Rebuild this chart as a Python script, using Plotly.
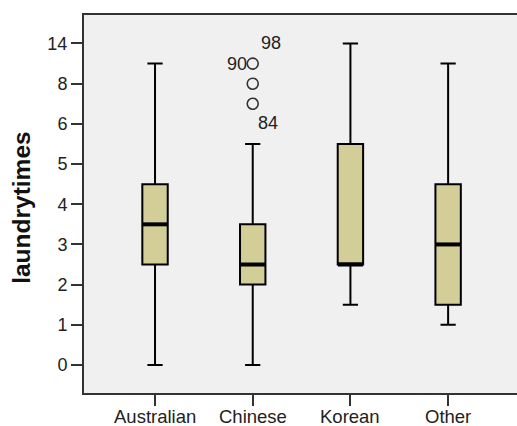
import plotly.graph_objects as go

# Ordinal y scale: tick labels placed at equally spaced positions 0..8
y_tick_labels = ["0", "1", "2", "3", "4", "5", "6", "8", "14"]
y_tick_pos = list(range(len(y_tick_labels)))

categories = ["Australian", "Chinese", "Korean", "Other"]
# box statistics expressed in ordinal-scale positions
lower_fence = [0.0, 0.0, 1.5, 1.0]
q1 = [2.5, 2.0, 2.5, 1.5]
median = [3.5, 2.5, 2.5, 3.0]
q3 = [4.5, 3.5, 5.5, 4.5]
upper_fence = [7.5, 5.5, 8.0, 7.5]

# outliers (Chinese group)
outlier_cat = [1, 1, 1]
outlier_pos = [7.5, 7.0, 6.5]
outlier_labels = ["98", "90", "84"]
label_x = [1.19, 0.835, 1.16]
label_y = [8.0, 7.5, 6.02]

box_fill = "#D3CE97"
font_family = "Liberation Sans, Arial"
fig = go.Figure()
xs = list(range(len(categories)))
for i in xs:
    fig.add_trace(go.Box(
        x=[i], q1=[q1[i]], median=[median[i]], q3=[q3[i]],
        lowerfence=[lower_fence[i]], upperfence=[upper_fence[i]],
        width=0.26, whiskerwidth=0.6, fillcolor=box_fill,
        line=dict(color="black", width=2), boxpoints=False,
        showlegend=False, hoverinfo="skip"))
    fig.add_trace(go.Scatter(
        x=[i - 0.128, i + 0.128], y=[median[i], median[i]], mode="lines",
        line=dict(color="black", width=4), showlegend=False, hoverinfo="skip"))

fig.add_trace(go.Scatter(
    x=outlier_cat, y=outlier_pos, mode="markers",
    marker=dict(symbol="circle-open", size=11, color="#333333", line=dict(width=1.6)),
    showlegend=False, hoverinfo="skip"))

for lx, ly, t in zip(label_x, label_y, outlier_labels):
    fig.add_annotation(x=lx, y=ly, text=t, showarrow=False,
                       font=dict(family=font_family, size=18, color="#222222"))

# category labels placed as annotations just below the tick marks
for i, c in zip(xs, categories):
    fig.add_annotation(x=i, xref="x", yref="paper", y=-0.096, text=c, showarrow=False,
                       xanchor="center", yanchor="bottom",
                       font=dict(family=font_family, size=18.5, color="#222222"))

fig.add_annotation(xref="paper", yref="paper", x=-0.143, y=0.49, text="<b>laundrytimes</b>",
                   textangle=-90, showarrow=False, xanchor="center", yanchor="middle",
                   font=dict(family=font_family, size=24.5, color="#111111"))

fig.update_layout(
    width=517, height=426,
    margin=dict(l=84, r=0, t=15, b=33),
    paper_bgcolor="white", plot_bgcolor="#F0F0F0",
    font=dict(family=font_family, size=18.5, color="#222222"),
    xaxis=dict(range=[-0.727, 3.705], tickvals=xs, showticklabels=False,
               showgrid=False, zeroline=False, showline=True, mirror=True,
               linecolor="#333333", linewidth=2, ticks="outside", ticklen=11,
               tickwidth=2, tickcolor="#333333", automargin=False),
    yaxis=dict(range=[-0.697, 8.709], tickvals=y_tick_pos, ticktext=y_tick_labels,
               showgrid=False, zeroline=False, showline=True, mirror=False,
               linecolor="#333333", linewidth=2, ticks="outside", ticklen=11,
               tickwidth=2, tickcolor="#333333", tickfont=dict(size=18), automargin=False),
)

fig.write_html("out.html")
